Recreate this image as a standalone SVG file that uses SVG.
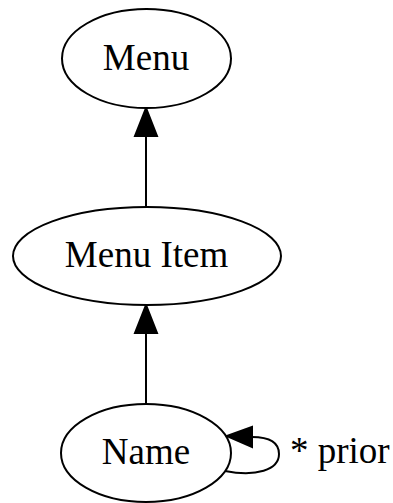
<svg xmlns="http://www.w3.org/2000/svg" width="393" height="503" viewBox="0 0 393 503">
<style>
.node ellipse{fill:#fff;stroke:#000;stroke-width:2}
text{font-family:"Liberation Serif","Times New Roman",serif;font-size:37px;fill:#000}
.edge path{fill:none;stroke:#000;stroke-width:2}
.edge polygon{fill:#000;stroke:#000;stroke-width:2}
</style>
<rect width="393" height="503" fill="#fff"/>
<g id="connectors" class="edge">
<path d="M146,404 L146,333"/>
<polygon points="146,305 135,333 157,333"/>
<path d="M146,136 L146,207"/>
<polygon points="146,108 135,136 157,136"/>
<path d="M225,471 C256,477 279,470 279,454 C279,442 268,437 252,437"/>
<polygon points="227,436 252,427 252,447"/>
<text x="290" y="463">* prior</text>
</g>
<g id="menu" class="node">
<ellipse cx="146.5" cy="58.5" rx="84.5" ry="49.5"/>
<text x="146" y="70" text-anchor="middle">Menu</text>
</g>
<g id="menu-item" class="node">
<ellipse cx="147" cy="256" rx="134" ry="49"/>
<text x="146.5" y="267" text-anchor="middle">Menu Item</text>
</g>
<g id="name" class="node">
<ellipse cx="146" cy="453" rx="85" ry="49"/>
<text x="146" y="464" text-anchor="middle">Name</text>
</g>
</svg>
